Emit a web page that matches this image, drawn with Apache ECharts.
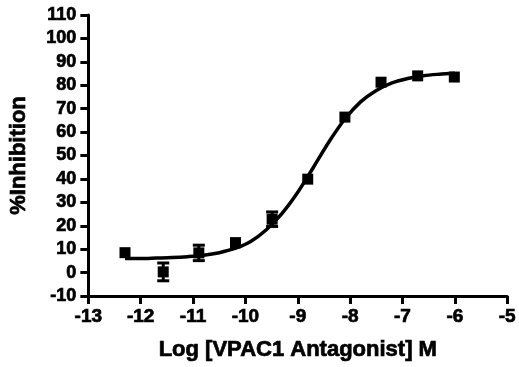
<!DOCTYPE html>
<html>
<head>
<meta charset="utf-8">
<script src="https://cdn.jsdelivr.net/npm/echarts@6/dist/echarts.min.js"></script>
<style>html,body{margin:0;padding:0;background:#fff;}#c{width:519px;height:367px;}</style>
</head>
<body>
<div id="c"></div>
<script>
// Measured points
const logConc = [-12.30, -11.57, -10.89, -10.19, -9.49, -8.81, -8.10, -7.41, -6.71, -6.01];
const inhibition = [8.5, 0.3, 8.4, 12.8, 22.8, 39.9, 66.4, 81.3, 84.0, 83.5];
const sem = [0, 3.8, 3.3, 0, 3.1, 0, 0, 0, 0, 0];
// Fitted curve
const curveX = [-12.3, -12.0, -11.7, -11.4, -11.1, -10.8, -10.5, -10.2, -9.9, -9.6, -9.3, -9.0, -8.7, -8.4, -8.1, -7.8, -7.5, -7.2, -6.9, -6.6, -6.3, -6.0];
const curveY = [6.0, 6.0, 6.2, 6.4, 6.8, 7.4, 8.5, 10.3, 13.3, 18.3, 25.3, 34.3, 45.0, 56.0, 65.6, 72.9, 77.8, 81.0, 82.9, 84.1, 84.7, 85.1];
const xTicks = {min: -13, max: -5, interval: 1};
const yTicks = {min: -10, max: 110, interval: 10};

const FONT = 'Arial, "Liberation Sans", sans-serif';
const chart = echarts.init(document.getElementById('c'), null, {renderer: 'canvas'});
const heavy = {textBorderColor: '#000', textBorderWidth: 0.7};
const axisCommon = {
  axisLine: {show: true, onZero: false, lineStyle: {color: '#000', width: 3}},
  axisTick: {show: true, length: 8, lineStyle: {color: '#000', width: 3}},
  splitLine: {show: false},
  nameTextStyle: Object.assign({color: '#000', fontFamily: FONT, fontWeight: 700, fontSize: 22}, heavy)
};
const labelStyle = Object.assign({color: '#000', fontFamily: FONT, fontWeight: 700}, heavy);
chart.setOption({
  animation: false,
  backgroundColor: '#fff',
  grid: {left: 88, right: 10, top: 15, bottom: 71, containLabel: false},
  xAxis: Object.assign({}, axisCommon, {
    type: 'value', min: xTicks.min, max: xTicks.max, interval: xTicks.interval,
    name: 'Log [VPAC1 Antagonist] M', nameLocation: 'middle', nameGap: 43,
    axisLabel: Object.assign({}, labelStyle, {fontSize: 19, margin: 11})
  }),
  yAxis: Object.assign({}, axisCommon, {
    type: 'value', min: yTicks.min, max: yTicks.max, interval: yTicks.interval,
    name: '%Inhibition', nameLocation: 'middle', nameGap: 58, nameRotate: 90,
    axisLabel: Object.assign({}, labelStyle, {fontSize: 18, margin: 12})
  }),
  series: [
    {
      type: 'line', data: curveX.map((x, i) => [x, curveY[i]]),
      smooth: 0.3, showSymbol: false,
      lineStyle: {color: '#000', width: 3.5}, z: 2
    },
    {
      type: 'custom',
      data: logConc.map((x, i) => [x, inhibition[i], sem[i]]),
      renderItem: function (params, api) {
        const x = api.value(0), y = api.value(1), e = api.value(2);
        if (!e) return null;
        const top = api.coord([x, y + e]);
        const bot = api.coord([x, y - e]);
        const hw = 6;
        const st = {stroke: '#000', lineWidth: 3};
        return {
          type: 'group', children: [
            {type: 'line', shape: {x1: top[0], y1: top[1], x2: bot[0], y2: bot[1]}, style: st},
            {type: 'line', shape: {x1: top[0] - hw, y1: top[1], x2: top[0] + hw, y2: top[1]}, style: st},
            {type: 'line', shape: {x1: bot[0] - hw, y1: bot[1], x2: bot[0] + hw, y2: bot[1]}, style: st}
          ]
        };
      },
      z: 3
    },
    {
      type: 'scatter', data: logConc.map((x, i) => [x, inhibition[i]]),
      symbol: 'rect', symbolSize: 11,
      itemStyle: {color: '#000', opacity: 1}, z: 4
    }
  ]
});
</script>
</body>
</html>
